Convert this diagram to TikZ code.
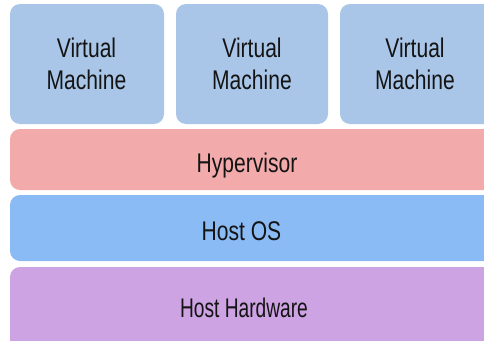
\documentclass[tikz,border=0pt]{standalone}
\usepackage{fontspec}
\setmainfont{Liberation Sans}[FakeStretch=0.78]
\newfontfamily\hwfont{Liberation Sans}[FakeStretch=0.71]
\definecolor{vmfill}{HTML}{A9C6E8}
\definecolor{hypfill}{HTML}{F2AAAA}
\definecolor{osfill}{HTML}{8ABBF5}
\definecolor{hwfill}{HTML}{CDA3E3}
\definecolor{txt}{HTML}{141414}
\begin{document}
\begin{tikzpicture}[x=1pt,y=-1pt,
  layer/.style={rectangle, rounded corners=10pt, draw=none, inner sep=0pt, outer sep=0pt},
  lbl/.style={text=txt, inner sep=0pt, font=\fontsize{27}{32}\selectfont, align=center}]
\useasboundingbox (0,0) rectangle (484,340);
\clip (0,0) rectangle (484,340);
\fill[white] (0,0) rectangle (484,340);
% virtual machines
\node[layer, fill=vmfill, minimum width=154pt, minimum height=120pt] (vm1) at (87,64) {};
\node[layer, fill=vmfill, minimum width=152pt, minimum height=120pt] (vm2) at (252,64) {};
\node[layer, fill=vmfill, minimum width=160pt, minimum height=120pt] (vm3) at (420,64) {};
% layers
\node[layer, fill=hypfill, minimum width=490pt, minimum height=61pt] (hyp) at (255,159.5) {};
\node[layer, fill=osfill, minimum width=490pt, minimum height=66pt] (os) at (255,228) {};
\node[layer, fill=hwfill, minimum width=490pt, minimum height=83pt] (hw) at (255,308.5) {};
% labels
\node[lbl] (vm1t) at (86.5,64) {Virtual\\Machine};
\node[lbl] (vm2t) at (252,64) {Virtual\\Machine};
\node[lbl] (vm3t) at (415,64) {Virtual\\Machine};
\node[lbl, anchor=base] (hypt) at (247,172) {Hypervisor};
\node[lbl, anchor=base] (ost) at (241.5,240) {Host OS};
\node[lbl, anchor=base, font=\hwfont\fontsize{27}{32}\selectfont] (hwt) at (244,317) {Host Hardware};
\end{tikzpicture}
\end{document}
